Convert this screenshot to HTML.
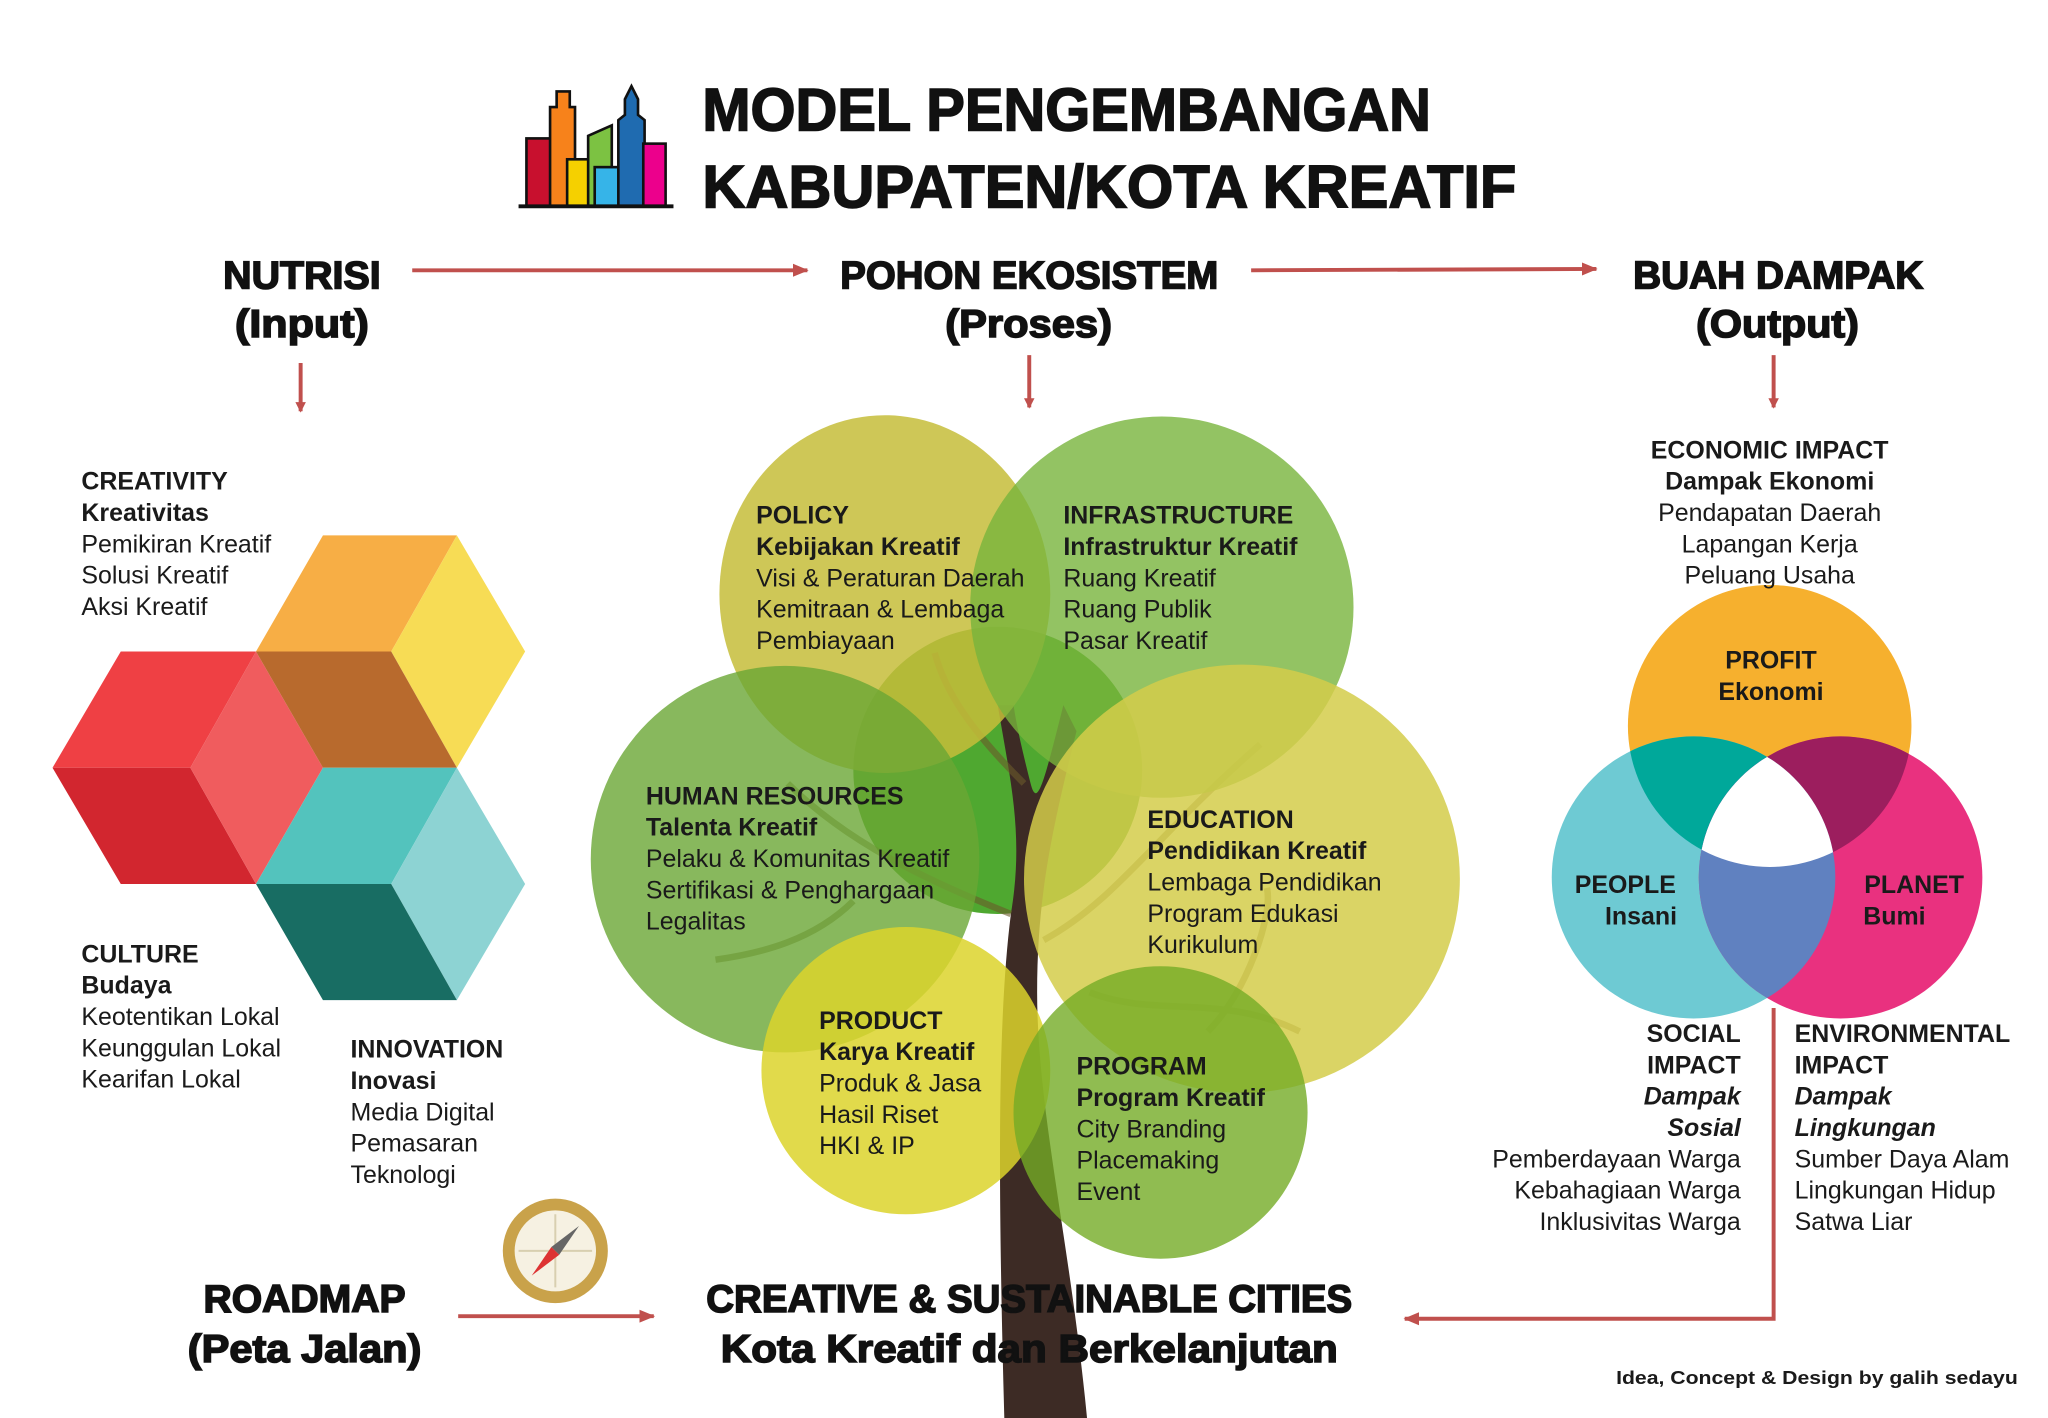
<!DOCTYPE html>
<html><head><meta charset="utf-8"><style>
html,body{margin:0;padding:0;background:#fff;}
svg{display:block}
text{font-family:"Liberation Sans",sans-serif;fill:#1a1a1a}
.h{font-weight:bold;stroke:#111;stroke-width:1.2;fill:#111}
.t{font-size:19px}
.b{font-weight:bold}
.bi{font-weight:bold;font-style:italic}
</style></head><body>
<svg width="2048" height="1418" viewBox="0 0 1560 1086" preserveAspectRatio="none" xmlns="http://www.w3.org/2000/svg">
<defs>
<marker id="ar" markerWidth="8" markerHeight="8" refX="7" refY="4" orient="auto" markerUnits="userSpaceOnUse"><path d="M0,0 L8,4 L0,8 z" fill="#c0504d"/></marker>
<marker id="ar2" markerWidth="12" markerHeight="12" refX="11" refY="6" orient="auto" markerUnits="userSpaceOnUse"><path d="M0,1 L12,6 L0,11 z" fill="#c0504d"/></marker>
<clipPath id="cPro"><circle cx="1348" cy="556" r="108"/></clipPath>
<clipPath id="cPeo"><circle cx="1290" cy="672" r="108"/></clipPath>
<clipPath id="cPla"><circle cx="1402" cy="672" r="108"/></clipPath>
</defs>

<!-- logo -->
<g stroke="#111" stroke-width="2">
<rect x="401" y="106" width="19" height="52" fill="#c8102e"/>
<path d="M419,158 V82 H424 V70 H434 V82 H438 V158 z" fill="#f7821b"/>
<rect x="432" y="122" width="20" height="36" fill="#f5d000"/>
<path d="M448,158 V104 L466,96 V158 z" fill="#7cc242"/>
<rect x="453" y="128" width="20" height="30" fill="#36b4e8"/>
<path d="M471,158 V92 L476,88 V76 L481,66 L486,76 V88 L491,92 V158 z" fill="#1f6bb0"/>
<rect x="490" y="110" width="17" height="48" fill="#ec008c"/>
<line x1="395" y1="158" x2="513" y2="158" stroke-width="3"/>
</g>
<text x="535" y="100" class="h" font-size="46" textLength="555" lengthAdjust="spacingAndGlyphs" stroke-width="2">MODEL PENGEMBANGAN</text>
<text x="535" y="159" class="h" font-size="46" textLength="620" lengthAdjust="spacingAndGlyphs" stroke-width="2">KABUPATEN/KOTA KREATIF</text>

<!-- headers -->
<g font-size="30">
<text x="170" y="221" class="h" textLength="120" lengthAdjust="spacingAndGlyphs">NUTRISI</text>
<text x="179" y="258" class="h" textLength="102" lengthAdjust="spacingAndGlyphs">(Input)</text>
<text x="640" y="221" class="h" textLength="288" lengthAdjust="spacingAndGlyphs">POHON EKOSISTEM</text>
<text x="720" y="258" class="h" textLength="127" lengthAdjust="spacingAndGlyphs">(Proses)</text>
<text x="1244" y="221" class="h" textLength="221" lengthAdjust="spacingAndGlyphs">BUAH DAMPAK</text>
<text x="1292" y="258" class="h" textLength="124" lengthAdjust="spacingAndGlyphs">(Output)</text>
</g>
<g stroke="#c0504d" stroke-width="3" fill="none">
<line x1="314" y1="207" x2="615" y2="207" marker-end="url(#ar2)"/>
<line x1="953" y1="207" x2="1216" y2="206" marker-end="url(#ar2)"/>
<line x1="229" y1="278" x2="229" y2="315" marker-end="url(#ar)"/>
<line x1="784" y1="272" x2="784" y2="312" marker-end="url(#ar)"/>
<line x1="1351" y1="272" x2="1351" y2="312" marker-end="url(#ar)"/>
<polyline points="1351,772 1351,1010 1070,1010" marker-end="url(#ar2)"/>
<line x1="349" y1="1008" x2="498" y2="1008" marker-end="url(#ar2)"/>
</g>

<!-- cubes -->
<polygon points="40,588 92,499 195,499 145,588" fill="#ef4044"/>
<polygon points="40,588 145,588 195,677 92,677" fill="#d2262f"/>
<polygon points="145,588 195,499 246,588 195,677" fill="#f05c5e"/>
<polygon points="195,499 246,410 348,410 298,499" fill="#f7ae45"/>
<polygon points="348,410 400,499 348,588 298,499" fill="#f7dc55"/>
<polygon points="195,499 298,499 348,588 246,588" fill="#b86a2d"/>
<polygon points="195,677 246,588 348,588 298,677" fill="#53c3bd"/>
<polygon points="348,588 400,677 348,766 298,677" fill="#8dd3d3"/>
<polygon points="195,677 298,677 348,766 246,766" fill="#186d63"/>

<g class="t">
<text x="62" y="375" class="b">CREATIVITY</text>
<text x="62" y="399" class="b">Kreativitas</text>
<text x="62" y="423">Pemikiran Kreatif</text>
<text x="62" y="447">Solusi Kreatif</text>
<text x="62" y="471">Aksi Kreatif</text>
<text x="62" y="737" class="b">CULTURE</text>
<text x="62" y="761" class="b">Budaya</text>
<text x="62" y="785">Keotentikan Lokal</text>
<text x="62" y="809">Keunggulan Lokal</text>
<text x="62" y="833">Kearifan Lokal</text>
<text x="267" y="810" class="b">INNOVATION</text>
<text x="267" y="834" class="b">Inovasi</text>
<text x="267" y="858">Media Digital</text>
<text x="267" y="882">Pemasaran</text>
<text x="267" y="906">Teknologi</text>
</g>

<!-- tree -->
<circle cx="760" cy="590" r="110" fill="#4fa830"/>
<path d="M760,540 C770,600 780,640 770,700 C760,780 760,900 765,1086 L828,1086 C815,950 790,850 790,760 C790,690 800,640 820,560 L810,540 C795,600 790,620 785,600 C780,580 775,560 772,540 z" fill="#3d2b25"/>
<g fill="none" stroke="#6b5a2a" stroke-width="5" opacity="0.6">
<path d="M780,600 C740,560 720,530 712,500"/>
<path d="M770,700 C720,680 650,650 600,600"/>
<path d="M650,690 C620,720 580,730 545,735"/>
<path d="M795,720 C850,690 880,640 960,570"/>
<path d="M830,760 C880,780 930,760 990,790"/>
<path d="M920,790 C950,760 970,700 965,680"/>
</g>
<ellipse cx="674" cy="455" rx="126" ry="137" fill="#c6bd3a" opacity="0.85"/>
<circle cx="885" cy="465" r="146" fill="#78b43c" opacity="0.8"/>
<circle cx="598" cy="658" r="148" fill="#6aa634" opacity="0.8"/>
<ellipse cx="946" cy="673" rx="166" ry="164" fill="#d4cd4a" opacity="0.85"/>
<circle cx="690" cy="820" r="110" fill="#dcd42c" opacity="0.85"/>
<circle cx="884" cy="852" r="112" fill="#74ab25" opacity="0.8"/>

<g class="t">
<text x="576" y="401" class="b">POLICY</text>
<text x="576" y="425" class="b">Kebijakan Kreatif</text>
<text x="576" y="449">Visi &amp; Peraturan Daerah</text>
<text x="576" y="473">Kemitraan &amp; Lembaga</text>
<text x="576" y="497">Pembiayaan</text>
<text x="810" y="401" class="b">INFRASTRUCTURE</text>
<text x="810" y="425" class="b">Infrastruktur Kreatif</text>
<text x="810" y="449">Ruang Kreatif</text>
<text x="810" y="473">Ruang Publik</text>
<text x="810" y="497">Pasar Kreatif</text>
<text x="492" y="616" class="b">HUMAN RESOURCES</text>
<text x="492" y="640" class="b">Talenta Kreatif</text>
<text x="492" y="664">Pelaku &amp; Komunitas Kreatif</text>
<text x="492" y="688">Sertifikasi &amp; Penghargaan</text>
<text x="492" y="712">Legalitas</text>
<text x="874" y="634" class="b">EDUCATION</text>
<text x="874" y="658" class="b">Pendidikan Kreatif</text>
<text x="874" y="682">Lembaga Pendidikan</text>
<text x="874" y="706">Program Edukasi</text>
<text x="874" y="730">Kurikulum</text>
<text x="624" y="788" class="b">PRODUCT</text>
<text x="624" y="812" class="b">Karya Kreatif</text>
<text x="624" y="836">Produk &amp; Jasa</text>
<text x="624" y="860">Hasil Riset</text>
<text x="624" y="884">HKI &amp; IP</text>
<text x="820" y="823" class="b">PROGRAM</text>
<text x="820" y="847" class="b">Program Kreatif</text>
<text x="820" y="871">City Branding</text>
<text x="820" y="895">Placemaking</text>
<text x="820" y="919">Event</text>
</g>

<!-- venn -->
<circle cx="1348" cy="556" r="108" fill="#f6b02e"/>
<circle cx="1290" cy="672" r="108" fill="#6ecad3"/>
<circle cx="1402" cy="672" r="108" fill="#e9317f"/>
<circle cx="1290" cy="672" r="108" fill="#00a89a" clip-path="url(#cPro)"/>
<circle cx="1402" cy="672" r="108" fill="#9c1e5e" clip-path="url(#cPro)"/>
<circle cx="1402" cy="672" r="108" fill="#6081c0" clip-path="url(#cPeo)"/>
<g clip-path="url(#cPro)"><g clip-path="url(#cPeo)"><circle cx="1402" cy="672" r="108" fill="#fff" clip-path="url(#cPla)"/></g></g>

<g class="t" text-anchor="middle">
<text x="1348" y="351" class="b">ECONOMIC IMPACT</text>
<text x="1348" y="375" class="b">Dampak Ekonomi</text>
<text x="1348" y="399">Pendapatan Daerah</text>
<text x="1348" y="423">Lapangan Kerja</text>
<text x="1348" y="447">Peluang Usaha</text>
<text x="1349" y="512" class="b">PROFIT</text>
<text x="1349" y="536" class="b">Ekonomi</text>
<text x="1238" y="684" class="b">PEOPLE</text>
<text x="1250" y="708" class="b">Insani</text>
<text x="1458" y="684" class="b">PLANET</text>
<text x="1443" y="708" class="b">Bumi</text>
</g>
<g class="t" text-anchor="end">
<text x="1326" y="798" class="b">SOCIAL</text>
<text x="1326" y="822" class="b">IMPACT</text>
<text x="1326" y="846" class="bi">Dampak</text>
<text x="1326" y="870" class="bi">Sosial</text>
<text x="1326" y="894">Pemberdayaan Warga</text>
<text x="1326" y="918">Kebahagiaan Warga</text>
<text x="1326" y="942">Inklusivitas Warga</text>
</g>
<g class="t">
<text x="1367" y="798" class="b">ENVIRONMENTAL</text>
<text x="1367" y="822" class="b">IMPACT</text>
<text x="1367" y="846" class="bi">Dampak</text>
<text x="1367" y="870" class="bi">Lingkungan</text>
<text x="1367" y="894">Sumber Daya Alam</text>
<text x="1367" y="918">Lingkungan Hidup</text>
<text x="1367" y="942">Satwa Liar</text>
</g>

<!-- compass -->
<circle cx="423" cy="958" r="40" fill="#c9a24a"/>
<circle cx="423" cy="958" r="31" fill="#f6f1e2"/>
<line x1="395" y1="958" x2="451" y2="958" stroke="#d8cfb0" stroke-width="1.5"/>
<line x1="423" y1="930" x2="423" y2="986" stroke="#d8cfb0" stroke-width="1.5"/>
<polygon points="405,977 420,955 426,961" fill="#d33"/>
<polygon points="441,939 426,961 420,955" fill="#666"/>

<!-- bottom -->
<g font-size="30">
<text x="155" y="1005" class="h" textLength="154" lengthAdjust="spacingAndGlyphs">ROADMAP</text>
<text x="143" y="1043" class="h" textLength="178" lengthAdjust="spacingAndGlyphs">(Peta Jalan)</text>
<text x="538" y="1005" class="h" textLength="492" lengthAdjust="spacingAndGlyphs">CREATIVE &amp; SUSTAINABLE CITIES</text>
<text x="549" y="1043" class="h" textLength="470" lengthAdjust="spacingAndGlyphs">Kota Kreatif dan Berkelanjutan</text>
</g>
<text x="1537" y="1060" text-anchor="end" font-size="14" class="b" textLength="306" lengthAdjust="spacingAndGlyphs">Idea, Concept &amp; Design by galih sedayu</text>
</svg>
</body></html>
